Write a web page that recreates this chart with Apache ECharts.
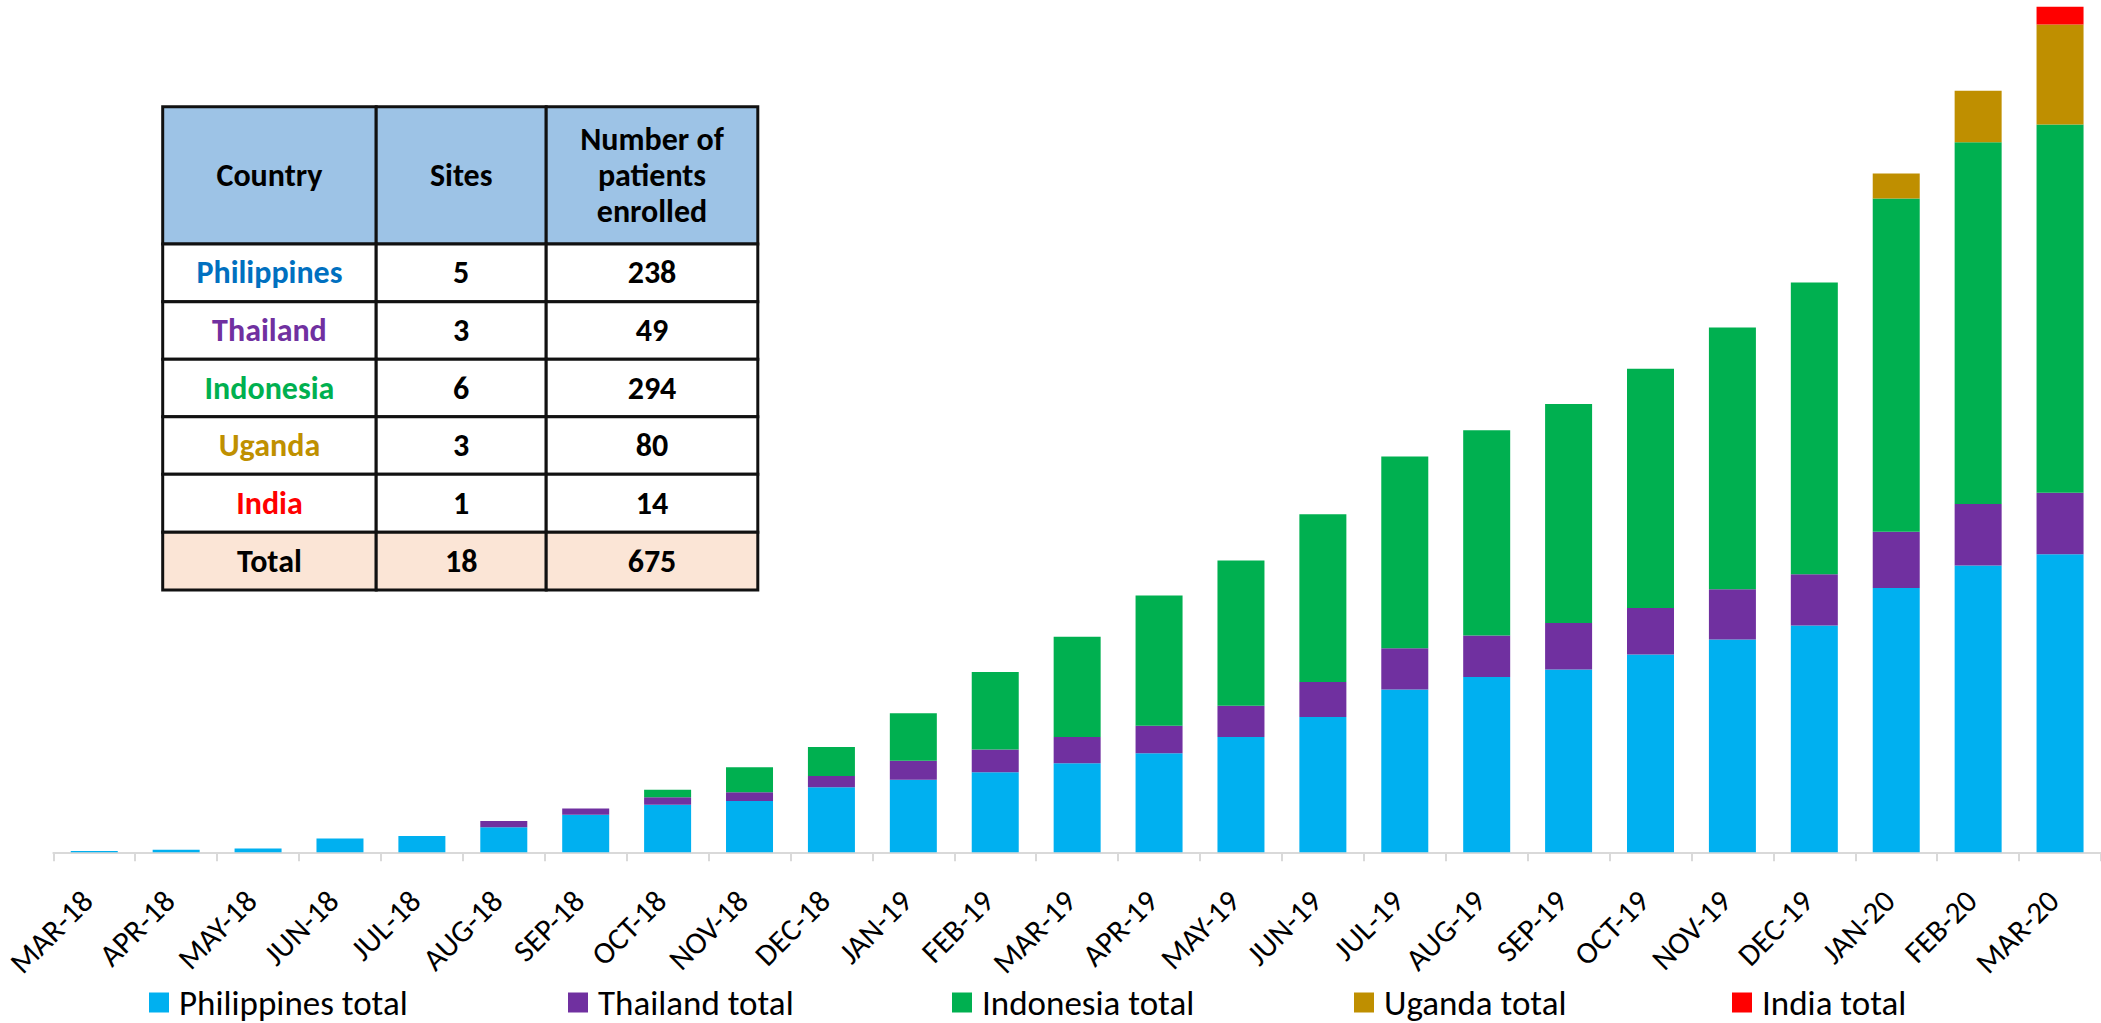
<!DOCTYPE html>
<html>
<head>
<meta charset="utf-8">
<title>Cumulative enrolment by country</title>
<script src="https://cdn.jsdelivr.net/npm/echarts@6/dist/echarts.min.js"></script>
<style>
  html, body { margin: 0; padding: 0; background: #ffffff; }
  #chart { width: 2101px; height: 1023px; }
</style>
</head>
<body>
<div id="chart"></div>
<script>
// Monthly cumulative enrolment, stacked by country
const months = ['MAR-18', 'APR-18', 'MAY-18', 'JUN-18', 'JUL-18', 'AUG-18', 'SEP-18', 'OCT-18', 'NOV-18', 'DEC-18',
  'JAN-19', 'FEB-19', 'MAR-19', 'APR-19', 'MAY-19', 'JUN-19', 'JUL-19', 'AUG-19', 'SEP-19', 'OCT-19', 'NOV-19', 'DEC-19',
  'JAN-20', 'FEB-20', 'MAR-20'];
const philippinesTotal = [1, 2, 3, 11, 13, 20, 30, 38, 41, 52, 58, 64, 71, 79, 92, 108, 130, 140, 146, 158, 170, 181, 211, 229, 238];
const thailandTotal    = [0, 0, 0, 0, 0, 5, 5, 6, 7, 9, 15, 18, 21, 22, 25, 28, 33, 33, 37, 37, 40, 41, 45, 49, 49];
const indonesiaTotal   = [0, 0, 0, 0, 0, 0, 0, 6, 20, 23, 38, 62, 80, 104, 116, 134, 153, 164, 175, 191, 209, 233, 266, 289, 294];
const ugandaTotal      = [0, 0, 0, 0, 0, 0, 0, 0, 0, 0, 0, 0, 0, 0, 0, 0, 0, 0, 0, 0, 0, 0, 20, 41, 80];
const indiaTotal       = [0, 0, 0, 0, 0, 0, 0, 0, 0, 0, 0, 0, 0, 0, 0, 0, 0, 0, 0, 0, 0, 0, 0, 0, 14];

const seriesNames = ['Philippines total', 'Thailand total', 'Indonesia total', 'Uganda total', 'India total'];
const seriesValues = [philippinesTotal, thailandTotal, indonesiaTotal, ugandaTotal, indiaTotal];
const seriesColors = ['#00b0f0', '#7030a0', '#00b050', '#bf8f00', '#ff0000'];

// Site summary table
const tableHeader = ['Country', 'Sites', 'Number of\npatients\nenrolled'];
const tableCountries = ['Philippines', 'Thailand', 'Indonesia', 'Uganda', 'India'];
const tableSites = [5, 3, 6, 3, 1];
const tablePatients = [238, 49, 294, 80, 14];
const tableTotal = ['Total', 18, 675];
const countryColors = ['#0070c0', '#7030a0', '#00b050', '#bf9000', '#ff0000'];

// Layout
const FONT = 'Carlito, Calibri, Lato, sans-serif';
const colEdges = [162.7, 376.2, 546.2, 757.8];
const rowEdges = [106.7, 244, 301.7, 359.3, 416.7, 474.3, 532.3, 590];
const legendLefts = [149, 568, 952, 1354, 1732];

function buildTable() {
  const els = [];
  const nRows = rowEdges.length - 1;
  const rows = [tableHeader];
  tableCountries.forEach((c, i) => rows.push([c, String(tableSites[i]), String(tablePatients[i])]));
  rows.push(tableTotal.map(String));
  for (let r = 0; r < nRows; r++) {
    for (let c = 0; c < 3; c++) {
      const x0 = colEdges[c], x1 = colEdges[c + 1];
      const y0 = rowEdges[r], y1 = rowEdges[r + 1];
      let fill = '#ffffff';
      if (r === 0) fill = '#9dc3e6';
      if (r === nRows - 1) fill = '#fbe5d6';
      els.push({
        type: 'rect', z: 10,
        shape: { x: x0, y: y0, width: x1 - x0, height: y1 - y0 },
        style: { fill: fill, stroke: '#111111', lineWidth: 3 }
      });
      let color = '#000000';
      if (c === 0 && r > 0 && r < nRows - 1) color = countryColors[r - 1];
      els.push({
        type: 'text', z: 11,
        style: {
          text: rows[r][c],
          x: (x0 + x1) / 2, y: (y0 + y1) / 2,
          align: 'center', verticalAlign: 'middle',
          fontFamily: FONT, fontWeight: 'bold', fontSize: 32, lineHeight: 36,
          fill: color
        }
      });
    }
  }
  return els;
}

const chart = echarts.init(document.getElementById('chart'), null, { renderer: 'svg' });

chart.setOption({
  animation: false,
  backgroundColor: '#ffffff',
  grid: { left: 53.3, top: 0.6, width: 2060, height: 851.7, containLabel: false },
  xAxis: {
    type: 'category',
    data: months,
    axisLine: { lineStyle: { color: '#d9d9d9', width: 2 } },
    axisTick: { show: true, length: 9, lineStyle: { color: '#d9d9d9', width: 2 } },
    axisLabel: {
      interval: 0, rotate: 45, margin: 36, padding: [0, 10, 0, 0],
      fontFamily: FONT, fontSize: 31, color: '#000000'
    }
  },
  yAxis: { type: 'value', min: 0, max: 680, show: false, splitLine: { show: false } },
  legend: seriesNames.map((name, i) => ({
    data: [name],
    left: legendLefts[i], top: 985,
    padding: 0, itemWidth: 20, itemHeight: 20, icon: 'rect',
    textStyle: { fontFamily: FONT, fontSize: 35, lineHeight: 34, color: '#000000', padding: [0, 0, 0, 5] }
  })),
  series: seriesNames.map((name, i) => ({
    name: name,
    type: 'bar',
    stack: 'total',
    barWidth: 47,
    itemStyle: { color: seriesColors[i] },
    data: seriesValues[i]
  })),
  graphic: buildTable()
});
</script>
</body>
</html>
